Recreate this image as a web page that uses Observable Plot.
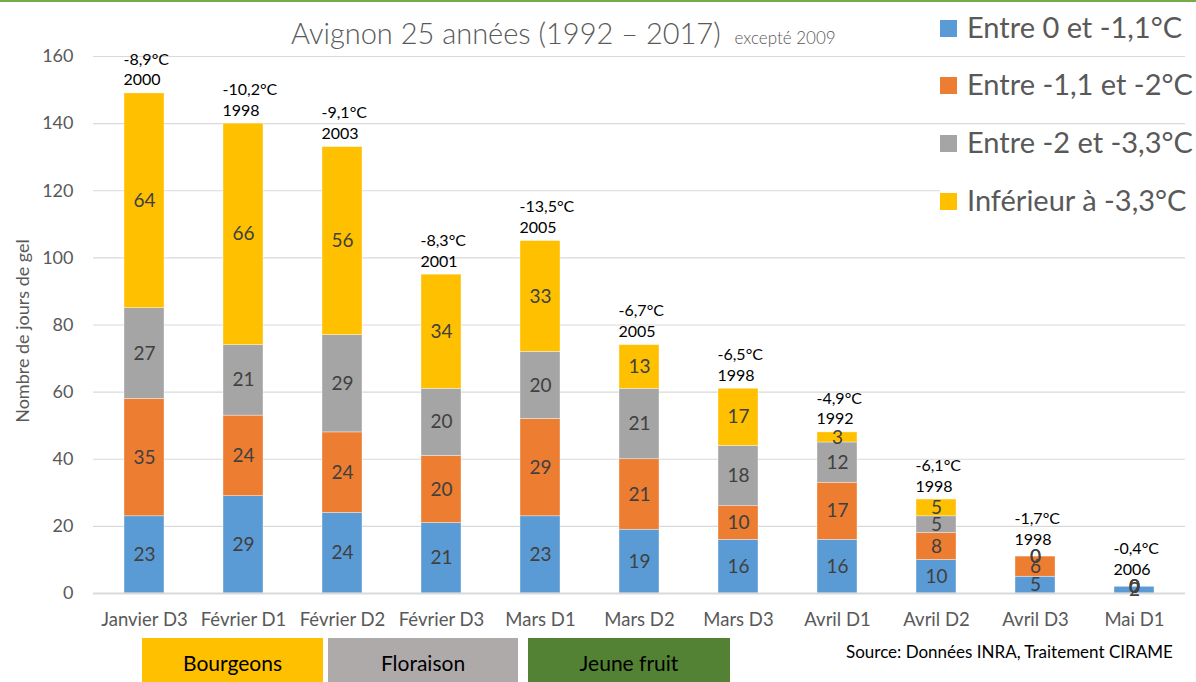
<!DOCTYPE html>
<html><head><meta charset="utf-8">
<script src="https://cdn.jsdelivr.net/npm/d3@7"></script>
<script src="https://cdn.jsdelivr.net/npm/@observablehq/plot@0.6"></script>
<style>
body{margin:0;background:#fff;font-family:Lato,"Open Sans",sans-serif;}
#wrap{position:relative;width:1196px;height:682px;overflow:hidden;}
#wrap svg{position:absolute;left:0;top:0;}
.abs{position:absolute;white-space:nowrap;}
</style></head>
<body><div id="wrap"></div>
<script>
const categories = ["Janvier D3","Février D1","Février D2","Février D3","Mars D1","Mars D2","Mars D3","Avril D1","Avril D2","Avril D3","Mai D1"];
const seriesNames = ["Entre 0 et -1,1°C","Entre -1,1 et -2°C","Entre -2 et -3,3°C","Inférieur à -3,3°C"];
const seriesColors = ["#5B9BD5","#ED7D31","#A5A5A5","#FFC000"];
const s0 = [23,29,24,21,23,19,16,16,10,5,2];
const s1 = [35,24,24,20,29,21,10,17,8,6,0];
const s2 = [27,21,29,20,20,21,18,12,5,0,0];
const s3 = [64,66,56,34,33,13,17,3,5,0,0];
const minTemps = ["-8,9°C","-10,2°C","-9,1°C","-8,3°C","-13,5°C","-6,7°C","-6,5°C","-4,9°C","-6,1°C","-1,7°C","-0,4°C"];
const minYears = ["2000","1998","2003","2001","2005","2005","1998","1992","1998","1998","2006"];
const yTicks = [0,20,40,60,80,100,120,140,160];
const stages = ["Bourgeons","Floraison","Jeune fruit"];
const stageColors = ["#FFC000","#AEAAAA","#548235"];

const seriesValues = [s0,s1,s2,s3];
const rows = [];
seriesValues.forEach((vals,si)=>vals.forEach((v,ci)=>rows.push({cat:categories[ci],series:seriesNames[si],value:v})));
const totals = categories.map((c,i)=>({cat:c,total:s0[i]+s1[i]+s2[i]+s3[i],topZero:s3[i]===0,label:minTemps[i]+"\n"+minYears[i]}));

const plot = Plot.plot({
  width:1196,height:682,
  marginLeft:93,marginRight:11,marginTop:56,marginBottom:89,
  style:{fontFamily:"Lato, 'Open Sans', sans-serif",color:"#595959",background:"transparent"},
  x:{domain:categories,paddingInner:0.6,paddingOuter:0.3,label:null},
  y:{domain:[0,160],label:null},
  color:{domain:seriesNames,range:seriesColors},
  marks:[
    Plot.ruleY(yTicks.filter(d=>d>0),{stroke:"#d9d9d9",strokeWidth:1.2}),
    Plot.barY(rows,{x:"cat",y:"value",z:"series",fill:"series",stroke:"#fff",strokeWidth:0.6,strokeOpacity:0.6}),
    Plot.ruleY([0],{stroke:"#d9d9d9",strokeWidth:2}),
    Plot.text(rows,Plot.stackY({x:"cat",y:"value",z:"series",text:d=>String(d.value),fill:"#404040",fontSize:19})),
    Plot.text(totals.filter(d=>!d.topZero),{x:"cat",y:"total",text:"label",textAnchor:"start",dx:-21,dy:-8,lineAnchor:"bottom",lineHeight:1.3,fontSize:16,fill:"#000"}),
    Plot.text(totals.filter(d=>d.topZero),{x:"cat",y:"total",text:"label",textAnchor:"start",dx:-21,dy:-12,lineAnchor:"bottom",lineHeight:1.3,fontSize:16,fill:"#000"}),
    Plot.axisY({ticks:yTicks,tickSize:0,tickPadding:20,fontSize:18,label:null}),
    Plot.axisX({tickSize:0,tickPadding:19,fontSize:18.5,label:null})
  ]
});
const wrap = document.getElementById("wrap");
wrap.appendChild(plot);

function add(html,css){const d=document.createElement("div");d.className="abs";d.innerHTML=html;Object.assign(d.style,css);wrap.appendChild(d);return d;}
// top green line
add("",{left:"0px",top:"0px",width:"1196px",height:"2px",background:"#70AD47"});
// title
add('Avignon 25 années (1992 – 2017) <span style="font-size:17px;margin-left:6px">excepté 2009</span>',{left:"291px",top:"13px",fontSize:"29px",color:"#595959",fontWeight:"300",lineHeight:"40px"});
// y label
add("Nombre de jours de gel",{left:"22px",top:"331px",fontSize:"18px",color:"#595959",transform:"translate(-50%,-50%) rotate(-90deg)"});
// legend
const legY=[27,84,142,200];
seriesNames.forEach((n,i)=>{
  add(`<span style="display:inline-block;width:17px;height:17px;background:${seriesColors[i]};margin-right:10px;vertical-align:middle;position:relative;top:-2px"></span>${n}`,
    {left:"940px",top:(legY[i]-20)+"px",fontSize:"29px",color:"#595959",lineHeight:"40px",background:i===3?"#fff":"transparent"});
});
// stage boxes
const stageX=[[142,323],[328,518],[528,730]];
stages.forEach((s,i)=>{
  add(s,{left:stageX[i][0]+"px",top:"638px",width:(stageX[i][1]-stageX[i][0])+"px",height:"44px",background:stageColors[i],color:"#000",fontSize:"21px",textAlign:"center",lineHeight:"50px"});
});
// source
add("Source: Données INRA, Traitement CIRAME",{left:"846px",top:"641px",fontSize:"17px",color:"#000"});
</script></body></html>
